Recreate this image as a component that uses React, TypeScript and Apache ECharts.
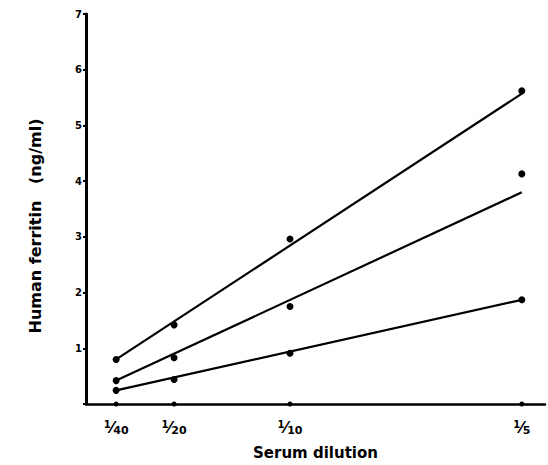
import React, { useEffect, useRef } from "react";
import * as echarts from "echarts";

const dilutions = [1 / 40, 1 / 20, 1 / 10, 1 / 5];
const dilutionNumerators = ["1", "1", "1", "1"];
const dilutionDenominators = ["40", "20", "10", "5"];
const yTicks = [1, 2, 3, 4, 5, 6, 7];

const pointsHigh = [0.8, 1.42, 2.96, 5.62];
const pointsMid = [0.42, 0.83, 1.75, 4.13];
const pointsLow = [0.245, 0.44, 0.91, 1.87];
const pointsZero = [0, 0, 0, 0];

const fitHigh = [0.8, 5.57];
const fitMid = [0.42, 3.8];
const fitLow = [0.245, 1.87];
const fitRange = [1 / 40, 1 / 5];

const FONT = "DejaVu Sans";

export default function App() {
  const ref = useRef<HTMLDivElement>(null);
  useEffect(() => {
    document.body.style.margin = "0";
    const chart = echarts.init(ref.current!, null, { renderer: "svg" });
    const pts = (ys: number[]) => dilutions.map((x, i) => [x, ys[i]]);
    const fit = (ys: number[]) => fitRange.map((x, i) => [x, ys[i]]);
    const lineSeries = (ys: number[]) => ({
      type: "line",
      data: fit(ys),
      showSymbol: false,
      symbol: "none",
      lineStyle: { color: "#000", width: 2.2 },
      z: 2,
    });
    const scatterSeries = (ys: number[], size: number, z = 3) => ({
      type: "scatter",
      data: pts(ys),
      symbolSize: size,
      itemStyle: { color: "#000", opacity: 1 },
      z,
    });
    chart.setOption({
      animation: false,
      backgroundColor: "#fff",
      grid: { left: 86, right: 3, top: 14, bottom: 53 },
      xAxis: {
        type: "value",
        min: 0.012,
        max: 0.21,
        name: "Serum dilution",
        nameLocation: "middle",
        nameGap: 41,
        nameTextStyle: { fontFamily: FONT, fontWeight: "bold", fontSize: 15, color: "#000" },
        axisLine: { onZero: false, lineStyle: { color: "#000", width: 2.5 } },
        axisTick: { show: false },
        splitLine: { show: false },
        axisLabel: {
          customValues: dilutions,
          margin: 15,
          color: "#000",
          formatter: (v: number) => {
            const i = dilutions.findIndex((d) => Math.abs(d - v) < 1e-6);
            if (i < 0) return "";
            return `{n|${dilutionNumerators[i]}}{s|⁄}{d|${dilutionDenominators[i]}}`;
          },
          rich: {
            n: { fontFamily: FONT, fontWeight: "bold", fontSize: 10, verticalAlign: "top", padding: [0, 0, 7, 0] },
            s: { fontFamily: FONT, fontWeight: "bold", fontSize: 16 },
            d: { fontFamily: FONT, fontWeight: "bold", fontSize: 11, verticalAlign: "bottom", padding: [5, 0, 0, 0] },
          },
        },
      },
      yAxis: {
        type: "value",
        min: 0,
        max: 7,
        interval: 1,
        axisLine: { show: true, lineStyle: { color: "#000", width: 3 } },
        axisTick: { show: true, length: 3, lineStyle: { color: "#000", width: 2 } },
        splitLine: { show: false },
        axisLabel: {
          customValues: yTicks,
          margin: 4,
          color: "#000",
          fontFamily: FONT,
          fontWeight: "bold",
          fontSize: 10,
          verticalAlign: "middle",
        },
      },
      graphic: [
        {
          type: "text",
          x: 35,
          y: 226,
          rotation: Math.PI / 2,
          style: {
            text: "Human ferritin   (ng/ml)",
            fontFamily: FONT,
            fontWeight: "bold",
            fontSize: 16,
            fill: "#000",
            align: "center",
            verticalAlign: "middle",
          },
        },
      ],
      series: [
        lineSeries(fitHigh),
        lineSeries(fitMid),
        lineSeries(fitLow),
        scatterSeries(pointsHigh, 7),
        scatterSeries(pointsMid, 7),
        scatterSeries(pointsLow, 7),
        scatterSeries(pointsZero, 5, 10),
      ],
    });
    return () => chart.dispose();
  }, []);
  return <div ref={ref} style={{ width: 548, height: 465 }} />;
}
